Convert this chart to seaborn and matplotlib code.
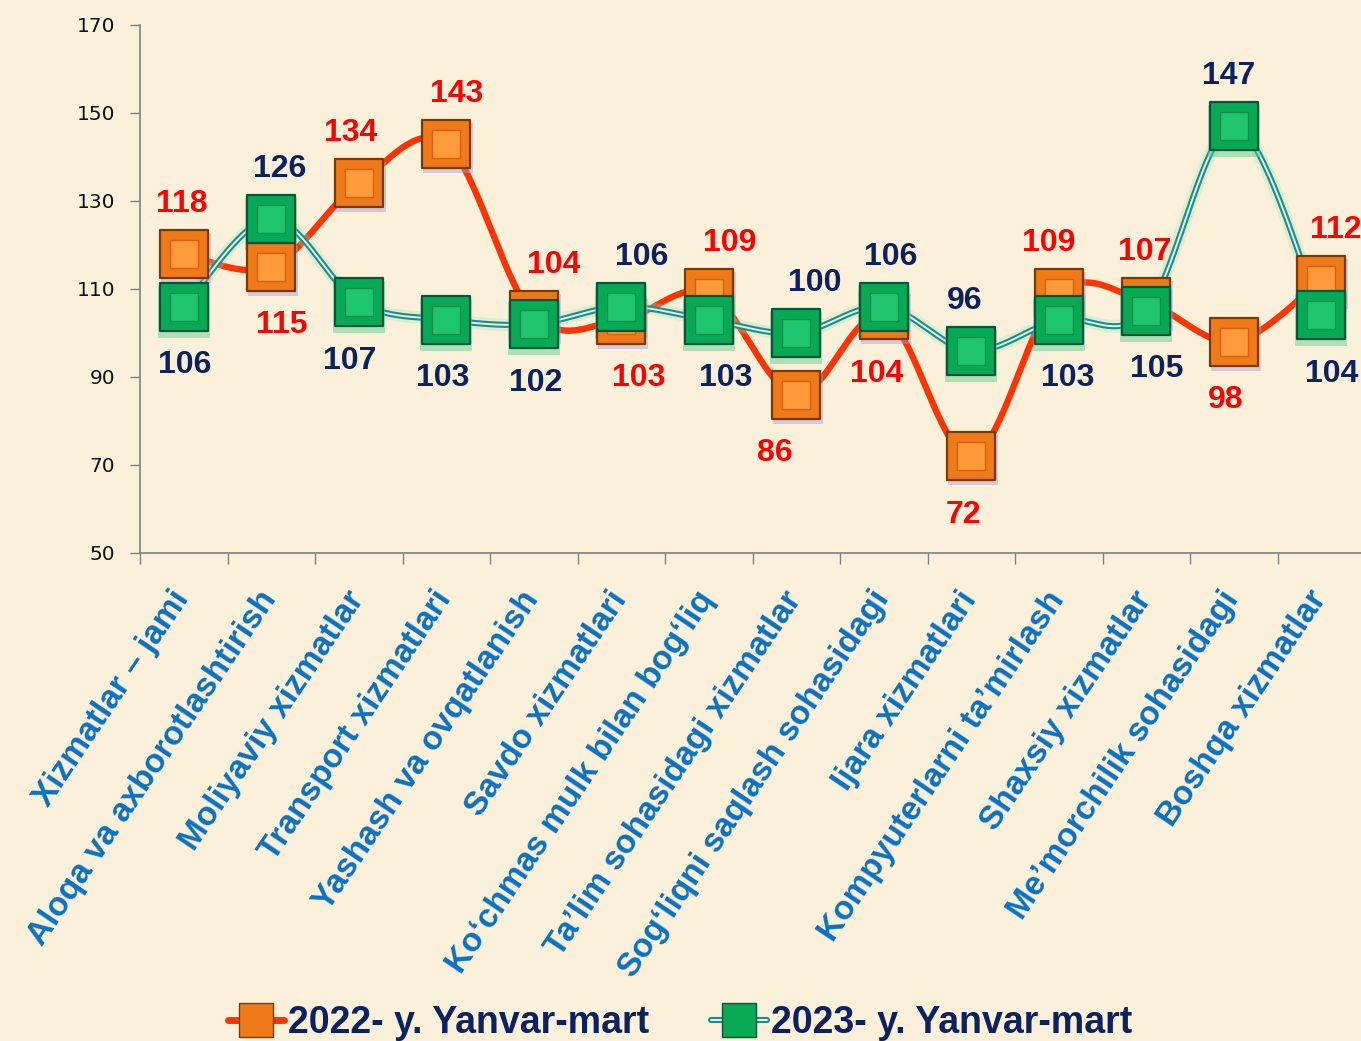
import numpy as np
import matplotlib
matplotlib.use("Agg")
import matplotlib.pyplot as plt
import matplotlib.transforms as mtransforms
from matplotlib.lines import Line2D
from matplotlib.legend_handler import HandlerTuple
import pandas as pd
import seaborn as sns

# ---------------- data ----------------
categories = [
    "Xizmatlar – jami",
    "Aloqa va axborotlashtirish",
    "Moliyaviy xizmatlar",
    "Transport xizmatlari",
    "Yashash va ovqatlanish",
    "Savdo xizmatlari",
    "Ko‘chmas mulk bilan bog‘liq",
    "Ta’lim sohasidagi xizmatlar",
    "Sog‘liqni saqlash sohasidagi",
    "Ijara xizmatlari",
    "Kompyuterlarni ta’mirlash",
    "Shaxsiy xizmatlar",
    "Me’morchilik sohasidagi",
    "Boshqa xizmatlar",
]
values_2022 = [118, 115, 134, 143, 104, 103, 109, 86, 104, 72, 109, 107, 98, 112]
values_2023 = [106, 126, 107, 103, 102, 106, 103, 100, 106, 96, 103, 105, 147, 104]
series_names = ["2022- y. Yanvar-mart", "2023- y. Yanvar-mart"]
y_ticks = [50, 70, 90, 110, 130, 150, 170]

# label horizontal nudges (px), layout only
dx_2022 = [-2, 10, -8, 10, 20, 17, 21, -21, -7, -8, -10, -2, -8, 15]
dx_2023 = [1, 8, -9, -4, 2, 20, 17, 18, 7, -7, 9, 10, -5, 10]

# ---------------- style ----------------
sns.set_theme(style="white")
plt.rcParams["font.family"] = ["Liberation Sans", "DejaVu Sans"]

BG = "#FBF0DA"
RED_LINE = "#FF3300"
TEAL = "#1E8C8C"
TEAL_IN = "#D8F5E6"
OR_EDGE = "#7A3A05"
OR_FILL = "#EE7A1A"
OR_IN = "#FF9A3A"
GR_EDGE = "#04573A"
GR_FILL = "#08A955"
GR_IN = "#1FC56E"
LBL_RED = "#FF0000"
LBL_NAVY = "#0B2160"
CAT_BLUE = "#0A72C2"

W, H = 1361, 1041
fig = plt.figure(figsize=(W / 100, H / 100), dpi=100)
fig.patch.set_facecolor(BG)
ax = fig.add_axes([140 / W, (H - 553) / H, 1225 / W, 528 / H])
ax.set_facecolor(BG)

n = len(categories)
x = np.arange(n)


def smooth(y, m=40):
    pts = np.column_stack([np.arange(len(y), dtype=float), np.asarray(y, dtype=float)])
    out = []
    for i in range(len(pts) - 1):
        p0 = pts[max(i - 1, 0)]
        p1 = pts[i]
        p2 = pts[i + 1]
        p3 = pts[min(i + 2, len(pts) - 1)]
        c1 = p1 + (p2 - p0) / 6.0
        c2 = p2 - (p3 - p1) / 6.0
        t = np.linspace(0, 1, m)[:, None]
        b = (1 - t) ** 3 * p1 + 3 * (1 - t) ** 2 * t * c1 + 3 * (1 - t) * t ** 2 * c2 + t ** 3 * p2
        out.append(b if i == 0 else b[1:])
    return np.vstack(out)


s22 = smooth(values_2022)
s23 = smooth(values_2023)

# lines
sns.lineplot(x=s22[:, 0], y=s22[:, 1], ax=ax, color=RED_LINE, lw=4.6, sort=False,
             estimator=None, zorder=2, solid_capstyle="round")
sns.lineplot(x=s23[:, 0], y=s23[:, 1], ax=ax, color="#9BE3B8", lw=9, alpha=0.3, sort=False,
             estimator=None, zorder=2.5)
sns.lineplot(x=s23[:, 0], y=s23[:, 1], ax=ax, color=TEAL, lw=4.4, sort=False,
             estimator=None, zorder=3)
sns.lineplot(x=s23[:, 0], y=s23[:, 1], ax=ax, color=TEAL_IN, lw=1.4, sort=False,
             estimator=None, zorder=3.1)

df = pd.DataFrame({"x": x, "v22": values_2022, "v23": values_2023})

# shadows
sh22 = mtransforms.offset_copy(ax.transData, fig=fig, x=2, y=-4, units="dots")
sh23 = mtransforms.offset_copy(ax.transData, fig=fig, x=0, y=-5, units="dots")
ax.scatter(df["x"], df["v22"], s=36 ** 2, marker="s", color="#A898D8", alpha=0.45,
           lw=0, transform=sh22, zorder=3.5)
ax.scatter(df["x"], df["v23"], s=37 ** 2, marker="s", color="#4FD08A", alpha=0.45,
           lw=0, transform=sh23, zorder=3.6)

# markers 2022
sns.scatterplot(data=df, x="x", y="v22", ax=ax, marker="s", s=34 ** 2, color=OR_FILL,
                edgecolor=OR_EDGE, linewidth=1.6, zorder=4, legend=False)
sns.scatterplot(data=df, x="x", y="v22", ax=ax, marker="s", s=20 ** 2, color=OR_IN,
                edgecolor="#D86010", linewidth=1.0, zorder=4.1, legend=False)
# markers 2023
sns.scatterplot(data=df, x="x", y="v23", ax=ax, marker="s", s=34 ** 2, color=GR_FILL,
                edgecolor=GR_EDGE, linewidth=1.6, zorder=5, legend=False)
sns.scatterplot(data=df, x="x", y="v23", ax=ax, marker="s", s=20 ** 2, color=GR_IN,
                edgecolor="#0B9048", linewidth=1.0, zorder=5.1, legend=False)

# data labels: larger value above, smaller below
for i in range(n):
    a, b = values_2022[i], values_2023[i]
    up22 = a >= b
    ax.annotate(str(a), (x[i], a), xytext=(dx_2022[i] * 0.72, 36 if up22 else -42),
                textcoords="offset points", ha="center", va="center",
                color=LBL_RED, fontsize=23, fontweight="bold", zorder=6)
    ax.annotate(str(b), (x[i], b), xytext=(dx_2023[i] * 0.72, -42 if up22 else 36),
                textcoords="offset points", ha="center", va="center",
                color=LBL_NAVY, fontsize=23, fontweight="bold", zorder=6)

# axes
ax.set_xlim(-0.5, n - 0.5)
ax.set_ylim(50, 170)
ax.set_yticks(y_ticks)
ax.set_yticklabels([str(t) for t in y_ticks], fontsize=14.5, family="DejaVu Sans", color="#111111")
ax.set_xticks(np.arange(-0.5, n, 1.0))
ax.set_xticklabels([])
ax.tick_params(axis="y", direction="out", length=7, width=1, color="#808080", pad=11, left=True)
ax.tick_params(axis="x", direction="out", length=8, width=1, color="#808080", bottom=True)
ax.set_xlabel("")
ax.set_ylabel("")
for side in ["top", "right"]:
    ax.spines[side].set_visible(False)
for side in ["left", "bottom"]:
    ax.spines[side].set_color("#808080")
    ax.spines[side].set_linewidth(1.2)
ax.grid(False)

# category labels (rotated)
lab_tr = mtransforms.blended_transform_factory(ax.transData, ax.transAxes)
lab_tr = lab_tr + mtransforms.ScaledTranslation(-1 / 100, -41 / 100, fig.dpi_scale_trans)
for i, c in enumerate(categories):
    ax.text(i, 0, c, transform=lab_tr, rotation=56, rotation_mode="anchor",
            ha="right", va="center", fontsize=24, fontweight="bold", color=CAT_BLUE,
            clip_on=False)

# legend
h22 = (Line2D([0], [0], color=RED_LINE, lw=5),
       Line2D([0], [0], marker="s", color="none", markerfacecolor=OR_FILL,
              markeredgecolor=OR_EDGE, markersize=24, lw=0))
h23 = (Line2D([0], [0], color=TEAL, lw=4.4),
       Line2D([0], [0], color=TEAL_IN, lw=1.4),
       Line2D([0], [0], marker="s", color="none", markerfacecolor=GR_FILL,
              markeredgecolor=GR_EDGE, markersize=24, lw=0))
leg = fig.legend([h22, h23], series_names, loc="center",
                 bbox_to_anchor=(0.5, 1 - 1023 / H), ncol=2, frameon=False,
                 handler_map={tuple: HandlerTuple(ndivide=1, pad=0)},
                 handlelength=1.47, handletextpad=0.13, columnspacing=1.65,
                 prop={"family": "Liberation Sans", "weight": "bold", "size": 27})
for t in leg.get_texts():
    t.set_color(LBL_NAVY)

fig.savefig("out.png", dpi=100, facecolor=BG)
